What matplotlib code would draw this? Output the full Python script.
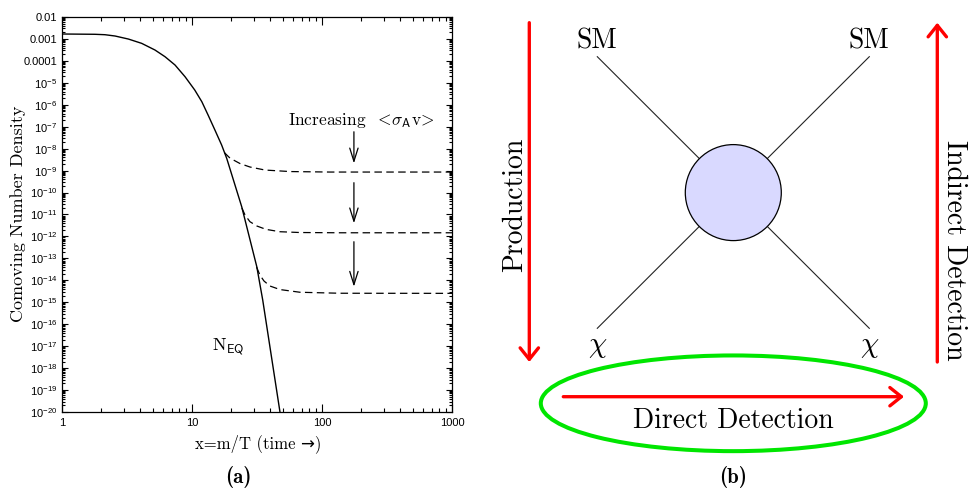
import numpy as np
import matplotlib
matplotlib.use("Agg")
import matplotlib.pyplot as plt
from matplotlib.patches import Circle, Ellipse, FancyArrowPatch
from matplotlib.ticker import LogLocator, NullFormatter

plt.rcParams["mathtext.fontset"] = "cm"
plt.rcParams["axes.formatter.use_mathtext"] = True
plt.rcParams["mathtext.rm"] = "Liberation Sans"
plt.rcParams["mathtext.it"] = "Liberation Sans:italic"
plt.rcParams["mathtext.bf"] = "Liberation Sans:bold"
plt.rcParams["mathtext.sf"] = "Liberation Sans"

# ---- data: equilibrium comoving number density ----
x_eq = [1.0, 1.79, 2.14, 2.56, 3.24, 4.10, 5.19, 6.20, 7.40, 8.84, 10.5,
        11.9, 13.3, 15.0, 16.9, 18.5, 24.1, 31.5, 35.0, 47.5]
n_eq = [1.68e-3, 1.63e-3, 1.56e-3, 1.36e-3, 9.9e-4, 6.3e-4, 3.13e-4, 1.55e-4,
        6.5e-5, 1.9e-5, 4.7e-6, 1.38e-6, 3.4e-7, 7.1e-8, 1.47e-8, 3.6e-9,
        2.3e-11, 4.2e-14, 1.26e-15, 1e-20]

# ---- freeze-out relic abundances for three cross sections ----
x_fo1 = [17.8, 19.6, 23.4, 27.9, 36.5, 56.7, 115, 1000]
n_fo1 = [6.5e-9, 3.7e-9, 2.1e-9, 1.46e-9, 1.06e-9, 9.06e-10, 8.6e-10, 8.6e-10]
x_fo2 = [24.2, 25.6, 27.9, 31.6, 37.1, 47.5, 67.7, 137, 1000]
n_fo2 = [1.97e-11, 9.4e-12, 4.7e-12, 2.98e-12, 2.1e-12, 1.64e-12, 1.51e-12,
         1.47e-12, 1.47e-12]
x_fo3 = [31.4, 33.3, 35.8, 39.8, 47.5, 67.7, 137, 1000]
n_fo3 = [4.0e-14, 1.74e-14, 9.3e-15, 5.5e-15, 3.8e-15, 2.86e-15, 2.58e-15,
         2.55e-15]

# arrows indicating increasing cross section (x, y_start, y_end)
arrow_x = 176
arrow_spans = [(10**-7.23, 10**-8.67), (10**-9.55, 10**-11.40),
               (10**-12.24, 10**-14.29)]

x_ticks = [1, 10, 100, 1000]
x_ticklabels = ["1", "10", "100", "1000"]
y_exps = list(range(-2, -21, -1))
y_ticklabels = ["0.01", "0.001", "0.0001"] + [r"$10^{%d}$" % e for e in y_exps[3:]]

W, H = 971, 492
fig = plt.figure(figsize=(W / 100, H / 100), dpi=100)


def fx(px):
    return px / W


def fy(py):
    return 1 - py / H


# ---------------- panel (a) ----------------
L, R, T, B = 62, 452, 17, 412
ax = fig.add_axes([fx(L), fy(B), fx(R - L), (B - T) / H])
ax.set_xscale("log")
ax.set_yscale("log")
ax.set_xlim(1, 1000)
ax.set_ylim(1e-20, 1e-2)

ax.plot(x_eq, n_eq, color="black", lw=1.0)
for xs, ns in [(x_fo1, n_fo1), (x_fo2, n_fo2), (x_fo3, n_fo3)]:
    ax.plot(xs, ns, color="black", lw=0.9, linestyle=(0, (6, 3.5)))

for y0, y1 in arrow_spans:
    ax.add_patch(FancyArrowPatch((arrow_x, y0), (arrow_x, y1),
                                 arrowstyle="->,head_length=0.95,head_width=0.3",
                                 mutation_scale=10, lw=0.9, color="black",
                                 shrinkA=0, shrinkB=0))

ax.text(202, 10**-6.73,
        r"$\mathrm{Increasing}\ \ <\!\sigma_{\mathsf{A}}\mathrm{v}\!>$",
        ha="center", va="center", fontsize=12.5, math_fontfamily="cm")
ax.text(18.9, 10**-17.04, r"$\mathrm{N}_{\mathsf{EQ}}$",
        ha="center", va="center", fontsize=13, math_fontfamily="cm")

ax.set_xticks(x_ticks)
ax.set_xticklabels(x_ticklabels)
ax.set_yticks([10.0**e for e in y_exps])
ax.set_yticklabels(y_ticklabels)
ax.xaxis.set_minor_locator(LogLocator(base=10, subs=np.arange(2, 10), numticks=100))
ax.yaxis.set_minor_locator(LogLocator(base=10, subs=np.arange(2, 10), numticks=100))
ax.xaxis.set_minor_formatter(NullFormatter())
ax.yaxis.set_minor_formatter(NullFormatter())
ax.tick_params(which="both", direction="in", top=True, right=True, width=0.8,
               color="black")
ax.tick_params(which="major", axis="x", length=5.5, pad=4)
ax.tick_params(which="minor", axis="x", length=3)
ax.tick_params(which="major", axis="y", length=4.5, pad=3.5)
ax.tick_params(which="minor", axis="y", length=2.2)
for lab in ax.get_xticklabels() + ax.get_yticklabels():
    lab.set_fontfamily("Liberation Sans")
    lab.set_fontsize(8)
    lab.set_math_fontfamily("custom")
for sp in ax.spines.values():
    sp.set_linewidth(0.9)

fig.text(fx(18), fy(214), "Comoving Number Density", rotation=90,
         ha="center", va="center", fontsize=13, family="cmr10")
fig.text(fx(258), fy(444), "x=m/T (time \u2192)", ha="center", va="center",
         fontsize=12, family=["cmr10", "DejaVu Sans"])
fig.text(fx(238.5), fy(483), "(a)", ha="center", va="baseline",
         fontsize=15, family="cmb10")

# ---------------- panel (b): annihilation diagram ----------------
dx = fig.add_axes([fx(480), 0, fx(W - 480), 1])
dx.set_xlim(480, W)
dx.set_ylim(H, 0)
dx.axis("off")

blob_c = (733.3, 192.6)
blob_r = 48
leg_tl, leg_tr = (597.3, 56.7), (869.3, 56.7)
leg_bl, leg_br = (597.3, 328.3), (869.3, 328.3)

dx.plot([leg_tl[0], leg_br[0]], [leg_tl[1], leg_br[1]], color="#222222", lw=0.8)
dx.plot([leg_tr[0], leg_bl[0]], [leg_tr[1], leg_bl[1]], color="#222222", lw=0.8)
dx.add_patch(Circle(blob_c, blob_r, facecolor="#d9d9ff", edgecolor="black",
                    lw=0.9, zorder=3))

dx.text(596.7, 48.3, "SM", ha="center", va="baseline", fontsize=20, family="cmr10")
dx.text(869.0, 48.3, "SM", ha="center", va="baseline", fontsize=20, family="cmr10")
dx.text(598.0, 352, r"$\chi$", ha="center", va="baseline", fontsize=21,
        math_fontfamily="cm")
dx.text(869.3, 352, r"$\chi$", ha="center", va="baseline", fontsize=21,
        math_fontfamily="cm")

red = "#ff0000"
red_style = "->,head_length=0.75,head_width=0.6"
dx.add_patch(FancyArrowPatch((529.3, 22.7), (529.3, 362), arrowstyle=red_style,
                             mutation_scale=11, lw=2.4, color=red,
                             shrinkA=0, shrinkB=0))
dx.add_patch(FancyArrowPatch((937.3, 362), (937.3, 22.7), arrowstyle=red_style,
                             mutation_scale=11, lw=2.4, color=red,
                             shrinkA=0, shrinkB=0))
dx.add_patch(Ellipse((733.3, 403.3), 385, 95.7, facecolor="none",
                     edgecolor="#00e600", lw=2.9))
dx.add_patch(FancyArrowPatch((563.3, 396.7), (904, 396.7), arrowstyle=red_style,
                             mutation_scale=11, lw=2.4, color=red,
                             shrinkA=0, shrinkB=0))

dx.text(522, 205, "Production", rotation=90, rotation_mode="anchor",
        ha="center", va="baseline", fontsize=20, family="cmr10")
dx.text(946.7, 250, "Indirect Detection", rotation=-90, rotation_mode="anchor",
        ha="center", va="baseline", fontsize=20, family="cmr10")
dx.text(733.3, 428.3, "Direct Detection", ha="center", va="baseline",
        fontsize=20, family="cmr10")

fig.text(fx(733), fy(483), "(b)", ha="center", va="baseline",
         fontsize=15, family="cmb10")

fig.savefig("out.png", dpi=100)
